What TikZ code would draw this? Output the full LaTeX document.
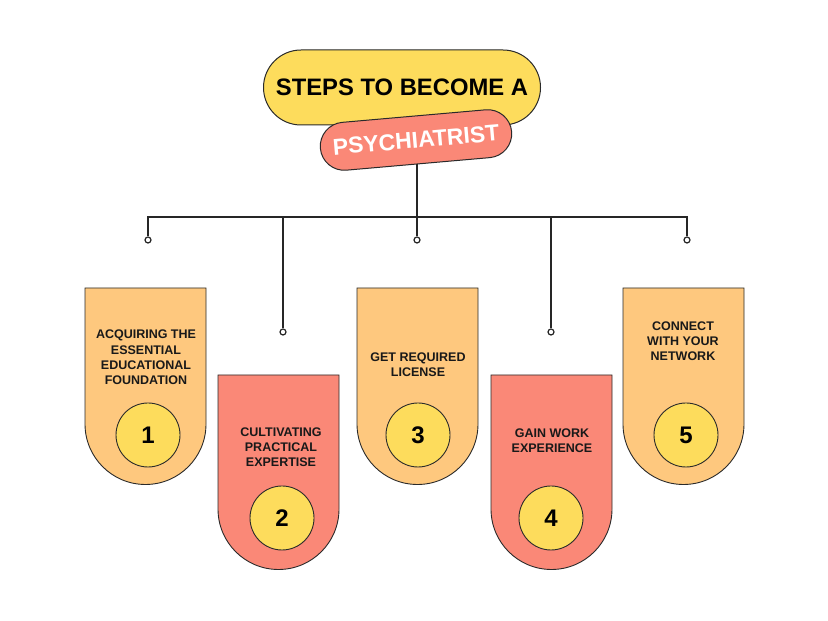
\documentclass[tikz,border=0pt]{standalone}
\usepackage{fontspec}
\setmainfont{Liberation Sans}
\usetikzlibrary{calc}
\definecolor{pillyellow}{HTML}{FDDC5C}
\definecolor{salmon}{HTML}{FA8877}
\definecolor{lightorange}{HTML}{FEC87E}
\definecolor{edge}{HTML}{2A2A2A}
\tikzset{
  x=1pt,y=1pt,
  conn/.style={draw=black!85, line width=1.4pt},
  endcircle/.style={circle, draw=black!85, line width=1.2pt, fill=white, inner sep=0pt, minimum size=6pt},
  boxtext/.style={font=\bfseries\fontsize{12.5}{15.2}\selectfont, align=center, text=black!90},
  numcircle/.style={circle, draw=edge, line width=0.9pt, fill=pillyellow, minimum size=64pt, inner sep=0pt, font=\bfseries\fontsize{24}{24}\selectfont},
  stepshape/.style={draw=edge, line width=0.9pt}
}
\newcommand\tabbox[5]{% left right top straightbottom colour
  \path[stepshape, fill=#5] (#1,#3) -- (#2,#3) -- (#2,#4)
    arc[start angle=0, end angle=-180, radius={(#2-#1)/2}] -- cycle;
}
\begin{document}
\begin{tikzpicture}
\useasboundingbox (0,0) rectangle (828,621);
\fill[white] (0,0) rectangle (828,621);

% title
\node[draw=edge, line width=1pt, fill=pillyellow, rounded corners=37.5pt,
  minimum width=277pt, minimum height=75pt, font=\bfseries\fontsize{23.8}{24}\selectfont] (title) at (402,533.5) {STEPS TO BECOME A};
\node[draw=edge, line width=1pt, fill=salmon, rounded corners=24pt, rotate=5,
  minimum width=192pt, minimum height=48pt, text=white, font=\bfseries\fontsize{23}{24}\selectfont] (psych) at (416,481) {PSYCHIATRIST};

% connectors
\coordinate (hub) at (417,404);
\coordinate (h1) at (148,404);
\coordinate (h2) at (283,404);
\coordinate (h4) at (551,404);
\coordinate (h5) at (687,404);
\node[endcircle] (d1) at (148,381) {};
\node[endcircle] (d2) at (283,289) {};
\node[endcircle] (d3) at (417,381) {};
\node[endcircle] (d4) at (551,289) {};
\node[endcircle] (d5) at (687,381) {};
\draw[conn] (psych.south -| hub) -- (hub);
\draw[conn] (d1.north) -- (h1) -- (h5) -- (d5.north);
\draw[conn] (hub) -- (d3.north);
\draw[conn] (h2) -- (d2.north);
\draw[conn] (h4) -- (d4.north);

% boxes
\tabbox{85}{206}{333}{197}{lightorange}
\tabbox{218}{339}{246}{112}{salmon}
\tabbox{357}{478}{333}{197}{lightorange}
\tabbox{491}{612}{246}{112}{salmon}
\tabbox{623}{744}{333}{197}{lightorange}

\node[boxtext] (t1) at (146,263.5) {ACQUIRING THE\\ESSENTIAL\\EDUCATIONAL\\FOUNDATION};
\node[boxtext] (t2) at (281,173.5) {CULTIVATING\\PRACTICAL\\EXPERTISE};
\node[boxtext] (t3) at (418,256.5) {GET REQUIRED\\LICENSE};
\node[boxtext] (t4) at (552,180.5) {GAIN WORK\\EXPERIENCE};
\node[boxtext] (t5) at (683,280) {CONNECT\\WITH YOUR\\NETWORK};

\node[numcircle] (n1) at (148,186) {1};
\node[numcircle] (n2) at (282,103) {2};
\node[numcircle] (n3) at (418,186) {3};
\node[numcircle] (n4) at (551,103) {4};
\node[numcircle] (n5) at (686,186) {5};
\end{tikzpicture}
\end{document}
